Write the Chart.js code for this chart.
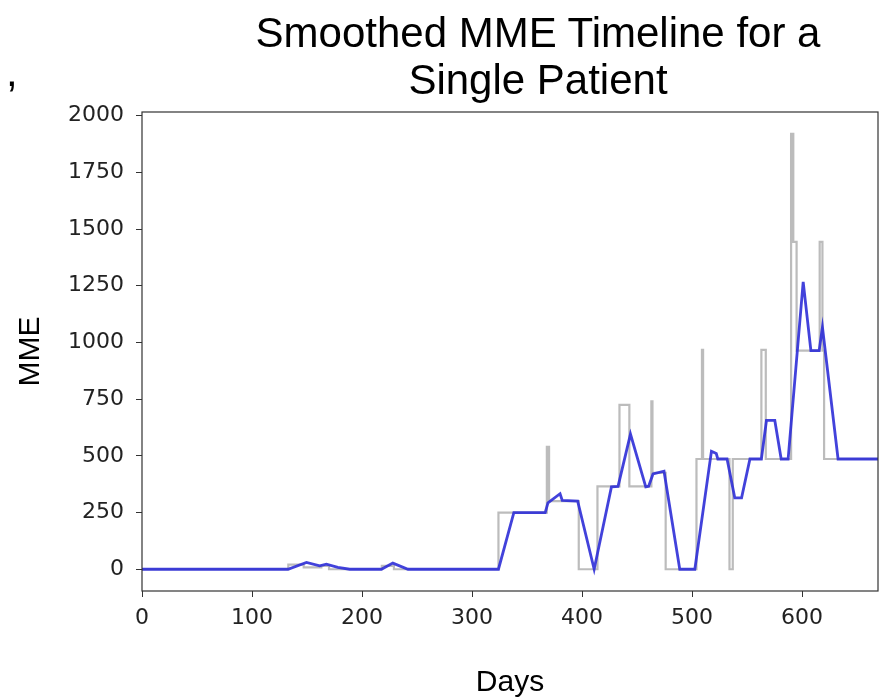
<!DOCTYPE html>
<html>
<head>
<meta charset="utf-8">
<script src="https://cdn.jsdelivr.net/npm/chart.js@4/dist/chart.umd.min.js"></script>
<style>
  html, body { margin: 0; padding: 0; background: #fff; }
  #wrap { position: relative; width: 884px; height: 698px; }
  #title {
    position: absolute; left: 238px; top: 9px; width: 600px;
    text-align: center; font-family: "Liberation Sans", Arial, sans-serif;
    font-size: 42px; line-height: 47px; color: #000;
  }
  #stray {
    position: absolute; left: 6px; top: 48px;
    font-family: "Liberation Sans", Arial, sans-serif;
    font-size: 42px; line-height: 47px; color: #000;
  }
  canvas { position: absolute; left: 0; top: 0; }
</style>
</head>
<body>
<div id="wrap">
  <canvas id="mmeChart" width="884" height="698"></canvas>
  <div id="title">Smoothed MME Timeline for a<br>Single Patient</div>
  <div id="stray">,</div>
</div>
<script>
// Datos: MME diario (escalonado) y versión suavizada
const rawDays = [0, 133, 147, 163, 170, 218, 229, 324, 368, 370, 397, 414, 434, 443, 463, 464, 476,
                 504, 509, 510, 534, 537, 563, 567, 590, 592, 595, 616, 618.5, 620, 669];
const rawMME  = [0, 20, 8, 15, 0, 15, 0, 250, 540, 300, 0, 365, 725, 365, 740, 425, 0,
                 486, 967, 486, 0, 486, 967, 486, 1920, 1443, 964, 1443, 964, 486, 486];

const smoothDays = [0, 132.7, 149.5, 161.5, 167.6, 178, 188.8, 217.6, 228, 241.8, 324, 338, 366.5, 369,
                    380, 382, 396, 411, 426.7, 432.7, 444, 457.9, 460.5, 464.5, 474.5, 488.8, 502.5,
                    517.6, 522, 523.4, 531.8, 538.8, 545, 552.6, 563, 567.6, 575.2, 581, 587.3, 601,
                    608, 615.5, 618.5, 632.7, 669];
const smoothMME  = [0, 0, 30, 15, 22, 8, 0, 0, 27, 0, 0, 250, 250, 293,
                    333, 303, 300, 0, 363, 365, 596, 363, 366, 420, 432, 0, 0,
                    520, 510, 486, 486, 315, 315, 486, 486, 656, 656, 486, 486, 1267,
                    964, 964, 1067, 486, 486];

const xTicks = [0, 100, 200, 300, 400, 500, 600];
const yTicks = [0, 250, 500, 750, 1000, 1250, 1500, 1750, 2000];

const toPoints = (xs, ys) => xs.map((x, i) => ({ x: x, y: ys[i] }));

// Marco completo alrededor del área del gráfico
const frame = {
    id: 'frame',
    afterDraw(chart) {
        const { ctx, chartArea: a } = chart;
        ctx.save();
        ctx.strokeStyle = '#333';
        ctx.lineWidth = 1.2;
        ctx.strokeRect(a.left, a.top, a.right - a.left, a.bottom - a.top);
        ctx.restore();
    }
};

const ctx = document.getElementById('mmeChart').getContext('2d');
const mmeChart = new Chart(ctx, {
    type: 'line',
    data: {
        datasets: [
            {
                label: 'Smoothed',
                data: toPoints(smoothDays, smoothMME),
                borderColor: 'rgba(45, 45, 215, 0.9)',
                borderWidth: 2.8,
                pointRadius: 0,
                tension: 0,
                fill: false
            },
            {
                label: 'Raw',
                data: toPoints(rawDays, rawMME),
                borderColor: 'rgba(165, 165, 165, 0.75)',
                borderWidth: 2.2,
                pointRadius: 0,
                stepped: true,
                fill: false
            }
        ]
    },
    options: {
        responsive: false,
        animation: false,
        layout: { padding: { top: 112, right: 6, left: 0, bottom: 0 } },
        plugins: {
            legend: { display: false },
            title: { display: false },
            tooltip: { enabled: false }
        },
        scales: {
            x: {
                type: 'linear',
                min: 0,
                max: 669,
                afterBuildTicks: (axis) => { axis.ticks = xTicks.map(v => ({ value: v })); },
                afterFit: (axis) => { axis.height = 107; },
                border: { display: false },
                grid: { drawOnChartArea: false, tickLength: 6, tickColor: '#333' },
                ticks: {
                    padding: 8,
                    maxRotation: 0,
                    color: '#222',
                    callback: (v) => String(v),
                    font: { family: 'DejaVu Sans', size: 22 }
                },
                title: {
                    display: true,
                    text: 'Days',
                    color: '#000',
                    padding: { top: 0, bottom: 0 },
                    font: { family: 'Liberation Sans', size: 30, lineHeight: 1 }
                }
            },
            y: {
                min: -96,
                max: 2016,
                afterBuildTicks: (axis) => { axis.ticks = yTicks.map(v => ({ value: v })); },
                afterFit: (axis) => { axis.width = 142; },
                border: { display: false },
                grid: { drawOnChartArea: false, tickLength: 6, tickColor: '#333' },
                ticks: {
                    padding: 12,
                    color: '#222',
                    callback: (v) => String(v),
                    font: { family: 'DejaVu Sans', size: 22 }
                },
                title: {
                    display: true,
                    text: 'MME',
                    color: '#000',
                    padding: { top: 16, bottom: 0 },
                    font: { family: 'Liberation Sans', size: 30, lineHeight: 1 }
                }
            }
        }
    },
    plugins: [frame]
});
</script>
</body>
</html>
